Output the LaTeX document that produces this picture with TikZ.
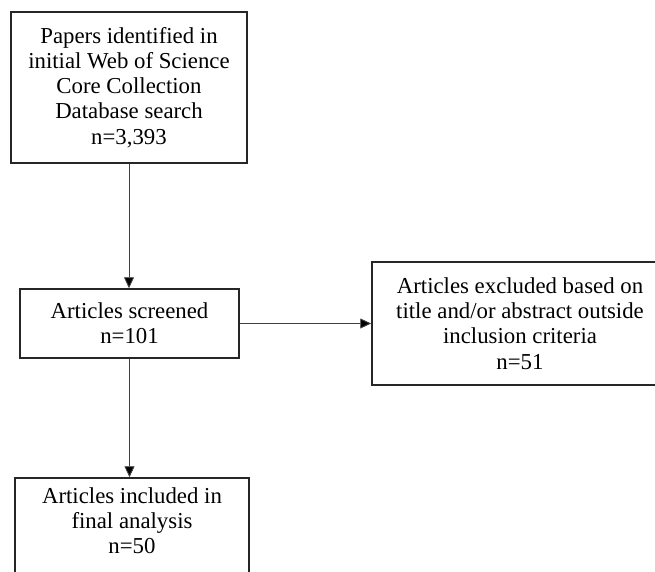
\documentclass[tikz,border=0pt]{standalone}
\usepackage{fontspec}
\setmainfont{Liberation Serif}
\usetikzlibrary{arrows.meta}
\begin{document}
\begin{tikzpicture}[x=1pt,y=1pt,
  flowbox/.style={draw=black!85, line width=1.5pt, align=center, inner sep=0pt,
    font=\fontsize{22.8}{25.2}\selectfont},
  flowarrow/.style={draw=black!75, line width=0.9pt, -{Triangle[width=10pt,length=11pt,fill=black]}}]
\useasboundingbox (0,0) rectangle (655,-571);
\begin{scope}
\clip (0,0) rectangle (655,-571);
\node[flowbox, minimum width=236pt, minimum height=151pt] (b1) at (129,-87.5)
  {Papers identified in\\initial Web of Science\\Core Collection\\Database search\\n=3,393};
\node[flowbox, minimum width=219pt, minimum height=69pt] (b2) at (129.5,-323.5)
  {Articles screened\\n=101};
\node[flowbox, minimum width=296pt, minimum height=123pt] (b3) at (520,-323.5)
  {Articles excluded based on\\title and/or abstract outside\\inclusion criteria\\n=51};
\node[flowbox, minimum width=234pt, minimum height=100pt] (b4) at (132,-528)
  {Articles included in\\final analysis\\[-0.5pt]n=50\rule[-15pt]{0pt}{15pt}};
\draw[flowarrow] (b1.south) -- (b1.south |- b2.north);
\draw[flowarrow] (b2.east) -- (b3.west);
\draw[flowarrow] (b2.south) -- (b2.south |- b4.north);
\end{scope}
\end{tikzpicture}
\end{document}
